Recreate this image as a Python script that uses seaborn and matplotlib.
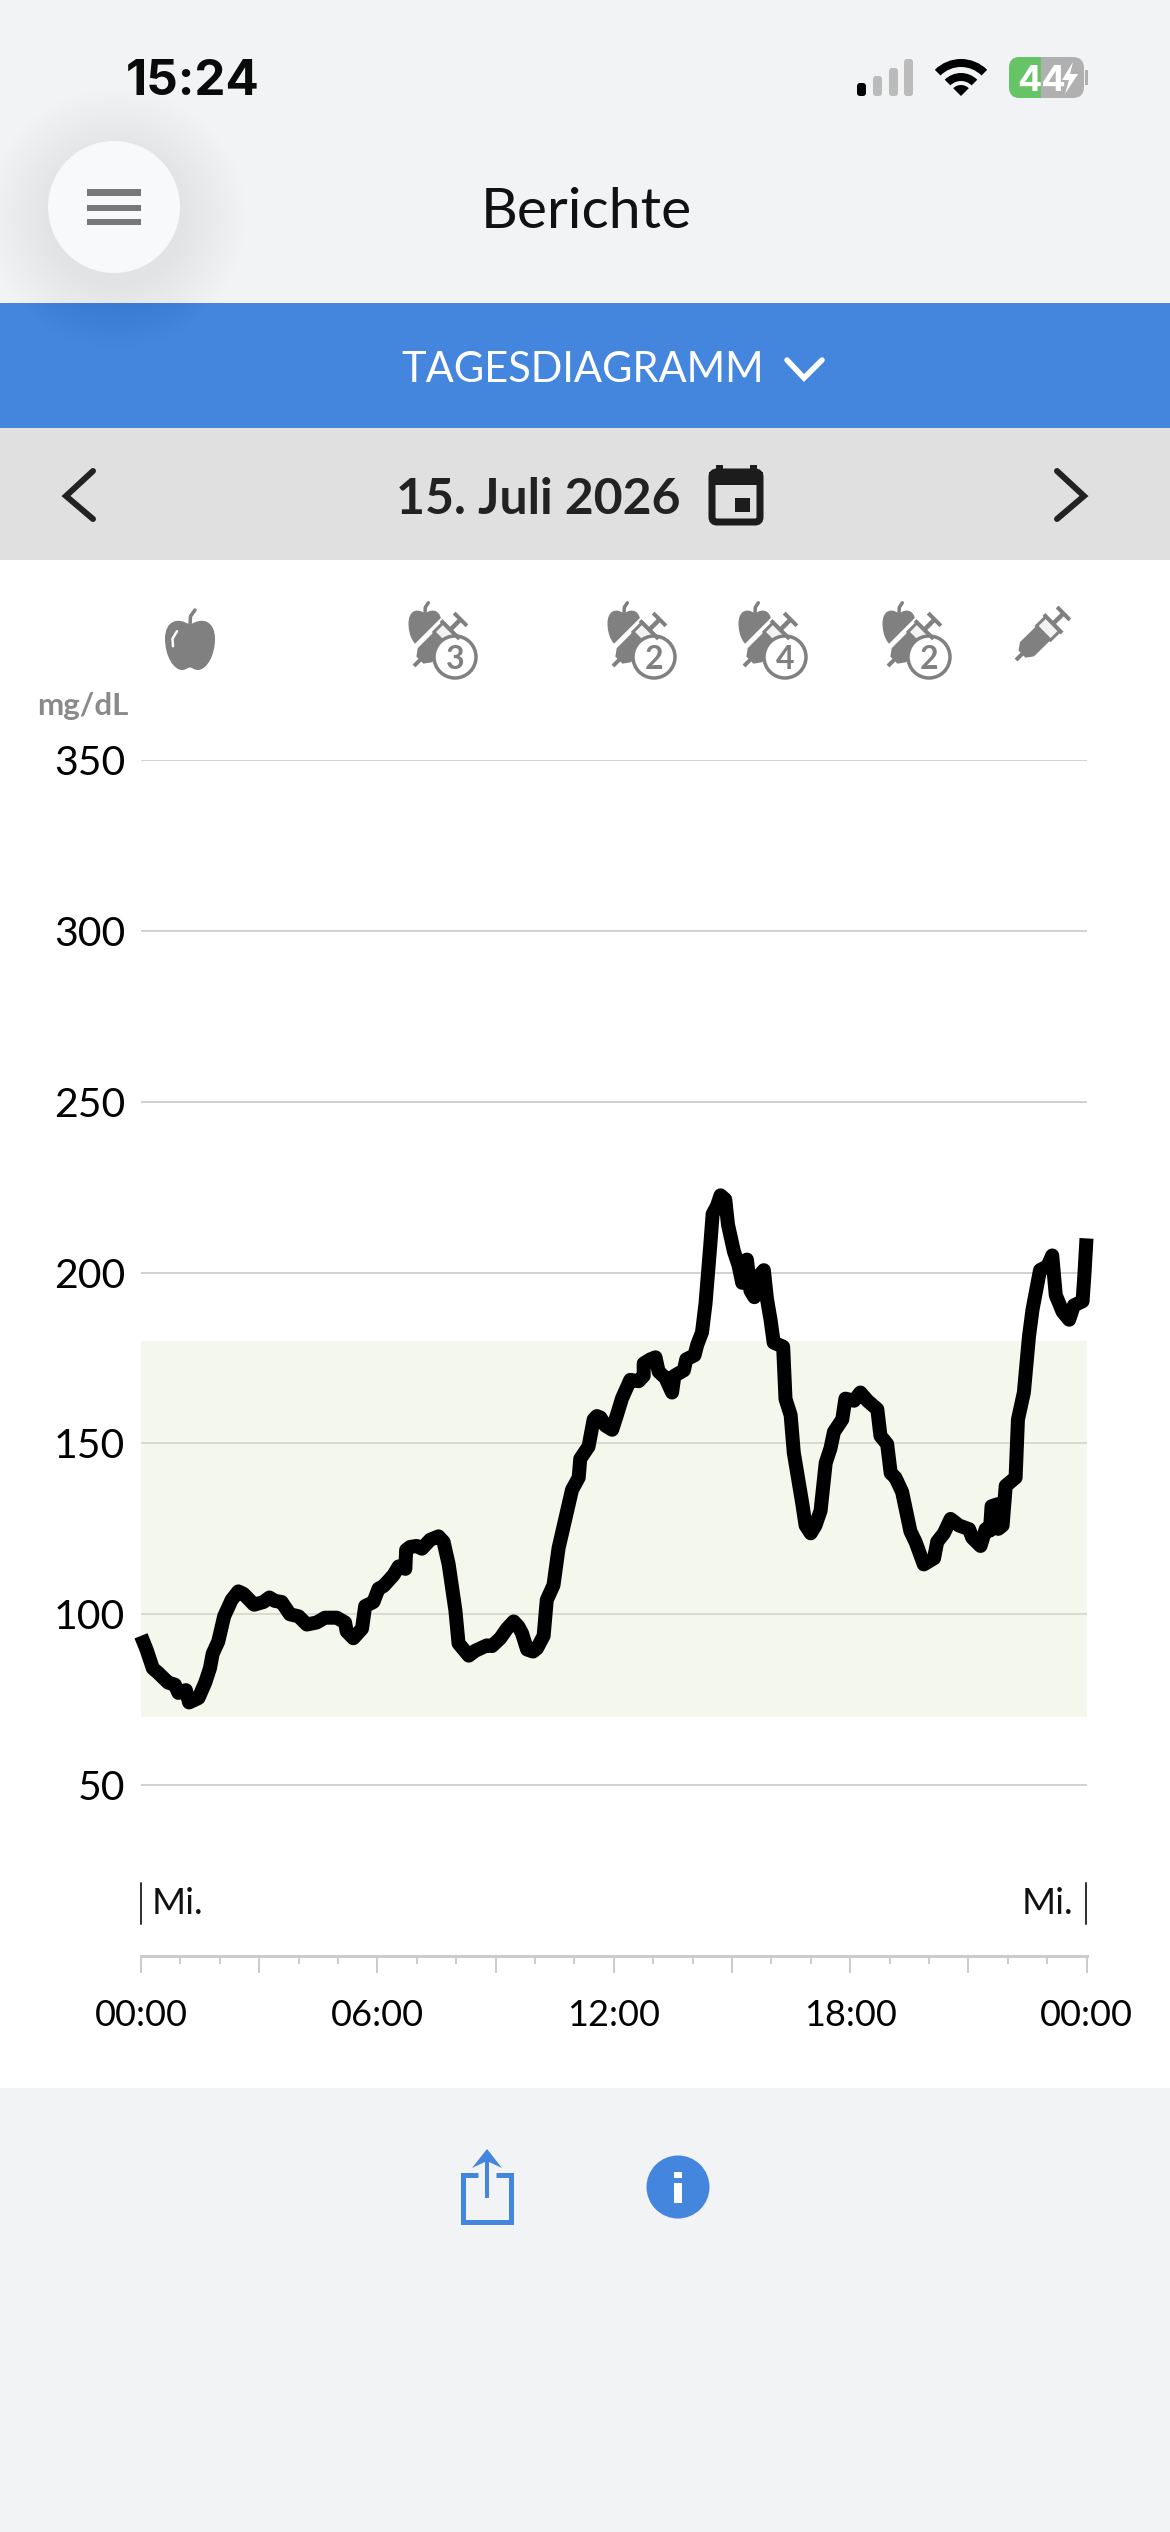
import numpy as np
import pandas as pd
import matplotlib
matplotlib.use("Agg")
import matplotlib.pyplot as plt
import seaborn as sns
from matplotlib.patches import Rectangle, Circle, Wedge, Polygon, FancyBboxPatch, PathPatch
from matplotlib.path import Path

# values
hours = [0.0, 0.14, 0.3, 0.44, 0.69, 0.86, 0.95, 1.14, 1.22, 1.46, 1.63, 1.75, 1.82, 1.96, 2.11, 2.3, 2.47, 2.6,
         2.87, 3.11, 3.26, 3.4, 3.57, 3.78, 4.0, 4.21, 4.46, 4.67, 4.97, 5.18, 5.22, 5.39, 5.61, 5.69, 5.9, 6.03,
         6.16, 6.41, 6.54, 6.71, 6.73, 6.83, 7.0, 7.13, 7.34, 7.55, 7.68, 7.81, 7.98, 8.06, 8.19, 8.32, 8.48, 8.78,
         8.91, 9.12, 9.29, 9.46, 9.58, 9.67, 9.8, 9.95, 10.05, 10.22, 10.3, 10.47, 10.6, 10.77, 10.94, 11.11, 11.15,
         11.36, 11.49, 11.57, 11.66, 11.79, 11.96, 12.08, 12.21, 12.42, 12.63, 12.76, 12.76, 12.93, 13.06, 13.14,
         13.31, 13.48, 13.54, 13.78, 13.84, 14.05, 14.12, 14.24, 14.33, 14.45, 14.51, 14.62, 14.71, 14.83, 14.9,
         15.05, 15.17, 15.26, 15.32, 15.38, 15.47, 15.57, 15.68, 15.81, 15.89, 15.98, 16.06, 16.3, 16.36, 16.49,
         16.57, 16.78, 16.87, 17.0, 17.12, 17.25, 17.38, 17.5, 17.59, 17.8, 17.88, 18.1, 18.26, 18.44, 18.69, 18.77,
         18.94, 19.03, 19.15, 19.32, 19.53, 19.66, 19.87, 20.13, 20.21, 20.38, 20.55, 20.76, 21.02, 21.1, 21.31,
         21.44, 21.55, 21.59, 21.74, 21.76, 21.87, 21.95, 22.2, 22.26, 22.41, 22.54, 22.63, 22.82, 23.01, 23.13,
         23.22, 23.39, 23.56, 23.68, 23.9, 23.95, 24.0]
glucose = [93.7, 89.7, 84.2, 82.8, 80, 79.4, 77, 77.8, 74.2, 75.5, 80, 84.2, 88.5, 92, 99.4, 104.2, 106.7, 106,
           102.8, 103.6, 104.9, 103.9, 103.6, 100, 99.4, 97, 97.6, 99, 99, 97.6, 95, 93, 95.8, 102.4, 103.6, 107.5,
           108.3, 111.5, 114, 113.3, 118.8, 119.7, 120, 119.2, 121.8, 122.8, 121.2, 114.6, 101.2, 91.5, 89.7, 87.9,
           89.3, 90.9, 90.7, 93, 95.8, 97.9, 96.4, 94.5, 89.7, 89.1, 90, 93.7, 104.2, 108.5, 119.4, 127.9, 136.4,
           140, 145.5, 149.1, 157, 158, 157.6, 155.2, 154, 158.3, 163.2, 168.6, 168.2, 169.8, 173.4, 174.6, 175.2,
           171, 169.2, 164.9, 169.8, 171.4, 174.6, 175.8, 178.9, 182.5, 191, 208, 217.1, 219.5, 222.6, 221.4, 214,
           206.2, 202, 197, 197, 203.8, 194.7, 192.8, 198.9, 200.7, 192.2, 186.2, 179.5, 178.3, 163, 158.3, 147.3,
           132.8, 126, 123.7, 126, 130.3, 144.3, 148.5, 153.4, 157, 163.1, 162.5, 164.9, 162.5, 160, 152.2, 149.8,
           141.3, 140, 135.8, 124.3, 121.2, 114.6, 116.4, 121.2, 123.7, 127.9, 126, 124.9, 122.4, 120, 124.9, 124.5,
           131.6, 132.2, 125, 126, 137.6, 140, 157, 164.9, 181.3, 189.2, 200.7, 201.9, 205, 193.4, 188.6, 186.2,
           190.4, 191.6, 200, 210]
y_ticks = [50, 100, 150, 200, 250, 300, 350]
target_low = 70
target_high = 180
x_major = [0, 3, 6, 9, 12, 15, 18, 21, 24]
x_major_labels = ["00:00", "", "06:00", "", "12:00", "", "18:00", "", "00:00"]
x_minor = [1, 2, 4, 5, 7, 8, 10, 11, 13, 14, 16, 17, 19, 20, 22, 23]

W, H = 1170, 2532
DPI = 100
FONT = ["Lato", "DejaVu Sans"]
GREY = "#808080"
DARK = "#222222"
BLUE = "#4486de"
PANEL = "#f1f3f5"

sns.set_style("white")
plt.rcParams["font.family"] = FONT
px = 72 / DPI  # one pixel in points

fig = plt.figure(figsize=(W / DPI, H / DPI), dpi=DPI, facecolor="white")

# background / UI layer in pixel coordinates
ui = fig.add_axes([0, 0, 1, 1], zorder=0)
ui.set_xlim(0, W)
ui.set_ylim(H, 0)
ui.axis("off")

ui.add_patch(Rectangle((0, 0), W, 303, color=PANEL, lw=0))
ui.add_patch(Rectangle((0, 303), W, 125, color=BLUE, lw=0))
ui.add_patch(Rectangle((0, 428), W, 132, color="#e0e0e0", lw=0))
ui.add_patch(Rectangle((0, 2088), W, H - 2088, color=PANEL, lw=0))

# menu button with soft shadow
for r in range(130, 66, -4):
    ui.add_patch(Circle((116, 218), r, color="black", alpha=0.0045, lw=0))
ui.add_patch(Circle((114, 207), 66, color="#f8f9fb", lw=0))
for y0, y1 in [(189, 196), (205, 211), (219, 225)]:
    ui.add_patch(Rectangle((87, y0), 54, y1 - y0, color="#777777", lw=0))

ui.text(126, 77, "15:24", family=["Inter", "DejaVu Sans"], weight="bold", fontsize=35.5, color="#0a0a0a", ha="left", va="center_baseline")
ui.text(586, 207, "Berichte", fontsize=41, color="#111111", ha="center", va="center_baseline")
ui.text(583, 366, "TAGESDIAGRAMM", fontsize=30, color="white", ha="center", va="center_baseline")
ui.plot([787, 804, 822], [360, 378, 360], color="white", lw=5.5 * px, solid_joinstyle="miter")
ui.text(538, 496, "15. Juli 2026", fontsize=36, weight="bold", color=DARK, ha="center", va="center_baseline")
ui.plot([93, 66, 93], [471, 496, 519], color=DARK, lw=6 * px, solid_joinstyle="miter")
ui.plot([1057, 1084, 1057], [471, 496, 519], color=DARK, lw=6 * px, solid_joinstyle="miter")

# calendar icon
ui.add_patch(FancyBboxPatch((712, 472), 48, 50, boxstyle="round,pad=0,rounding_size=5", fc="#e0e0e0", ec="#1c1c1c", lw=7 * px))
ui.add_patch(Rectangle((709, 472), 54, 13, color="#1c1c1c", lw=0))
ui.add_patch(Rectangle((716, 465), 7, 9, color="#1c1c1c", lw=0))
ui.add_patch(Rectangle((750, 465), 7, 9, color="#1c1c1c", lw=0))
ui.add_patch(Rectangle((735, 498), 15, 14, color="#1c1c1c", lw=0))

# signal bars
for x0, top, col in [(857, 83, "black"), (873, 76, "#bbbbbb"), (889, 68, "#bbbbbb"), (904, 59, "#bbbbbb")]:
    ui.add_patch(FancyBboxPatch((x0, top), 9, 96 - top, boxstyle="round,pad=0,rounding_size=3", color=col, lw=0))

# wifi
for r_out, r_w in [(37, 8), (23, 8)]:
    ui.add_patch(Wedge((961, 96), r_out, 225, 315, width=r_w, color="black", lw=0))
ui.add_patch(Wedge((961, 96), 11, 225, 315, color="black", lw=0))

# battery
ui.add_patch(FancyBboxPatch((1009, 57), 75, 41, boxstyle="round,pad=0,rounding_size=11", color="#b0b0b0", lw=0))
green = FancyBboxPatch((1009, 57), 75, 41, boxstyle="round,pad=0,rounding_size=11", color="#67c466", lw=0)
ui.add_patch(green)
green.set_clip_path(Rectangle((1009, 57), 32, 41, transform=ui.transData))
ui.add_patch(Rectangle((1085, 70), 3, 15, color="#b0b0b0", lw=0))
ui.text(1042, 78, "44", family=["Inter", "DejaVu Sans"], weight="bold", fontsize=26, color="white", ha="center", va="center_baseline")
ui.add_patch(Polygon([(1073, 62), (1062, 80), (1069, 80), (1065, 94), (1078, 74), (1070, 74)], color="white", lw=0))


def apple(cx, cy, w, h, shine=True):
    # body outline as one bezier path, plus a stem
    x = lambda f: cx + f * w / 2
    y = lambda f: cy + f * h / 2
    verts = [(x(0), y(-0.8)),
             (x(0.5), y(-1.15)), (x(1.0), y(-0.95)), (x(1.0), y(-0.25)),
             (x(1.0), y(0.45)), (x(0.65), y(1.0)), (x(0.32), y(1.0)),
             (x(0.15), y(1.0)), (x(0.1), y(0.9)), (x(0), y(0.9)),
             (x(-0.1), y(0.9)), (x(-0.15), y(1.0)), (x(-0.32), y(1.0)),
             (x(-0.65), y(1.0)), (x(-1.0), y(0.45)), (x(-1.0), y(-0.25)),
             (x(-1.0), y(-0.95)), (x(-0.5), y(-1.15)), (x(0), y(-0.8))]
    codes = [Path.MOVETO] + [Path.CURVE4] * 18
    ui.add_patch(PathPatch(Path(verts, codes), color=GREY, lw=0))
    ui.plot([x(0), x(0.02), x(0.2)], [y(-0.8), y(-1.15), y(-1.4)], color=GREY, lw=3.5 * px)
    if shine:
        ui.plot([x(-0.68), x(-0.7), x(-0.52)], [y(0.05), y(-0.25), y(-0.55)], color="white", lw=2.5 * px)


def syringe(x0, y0, x1, y1, halo=False):
    # x0,y0 is the needle tip, x1,y1 the plunger end
    p0 = np.array([x0, y0], float)
    d = np.array([x1 - x0, y1 - y0], float)
    n = np.array([-d[1], d[0]]) / np.hypot(*d)
    pt = lambda t, s: tuple(p0 + d * t + n * s)
    if halo:
        ui.add_patch(Polygon([pt(0.05, 15), pt(1.02, 15), pt(1.02, -15), pt(0.05, -15)], color="white", lw=0))
    ui.plot(*zip(pt(0, 0), pt(0.25, 0)), color=GREY, lw=4 * px, solid_capstyle="butt")
    ui.add_patch(Polygon([pt(0.12, 5), pt(0.22, 10), pt(0.55, 10), pt(0.55, -10), pt(0.22, -10), pt(0.12, -5)], color=GREY, lw=0))
    ui.add_patch(Polygon([pt(0.55, 10), pt(0.74, 10), pt(0.74, -10), pt(0.55, -10)], fc="#f2f2f2", ec=GREY, lw=3 * px))
    ui.plot(*zip(pt(0.74, 13), pt(0.74, -13)), color=GREY, lw=4 * px, solid_capstyle="butt")
    ui.plot(*zip(pt(0.74, 0), pt(0.95, 0)), color=GREY, lw=4.5 * px, solid_capstyle="butt")
    ui.plot(*zip(pt(0.95, 9), pt(0.95, -9)), color=GREY, lw=4 * px, solid_capstyle="butt")


def combo(cx, cy, count):
    apple(cx - 30, cy - 29, 33, 36, shine=False)
    syringe(cx - 41, cy + 9, cx + 8, cy - 40, halo=True)
    ui.add_patch(Circle((cx, cy), 21, fc="white", ec=GREY, lw=3.5 * px))
    ui.text(cx, cy, count, fontsize=23, weight="bold", color=GREY, ha="center", va="center_baseline")


apple(190, 645, 50, 50)
for cx, count in [(455, "3"), (654, "2"), (785, "4"), (929, "2")]:
    combo(cx, 657, count)
syringe(1016, 660, 1066, 611)

ui.text(37, 703, "mg/dL", fontsize=22.5, weight="bold", color="#8a8a8a", ha="left", va="center_baseline")

# footer icons
ui.plot([478, 463, 463, 511, 511, 496], [2175, 2175, 2222, 2222, 2175, 2175], color=BLUE, lw=5 * px, solid_joinstyle="miter", solid_capstyle="butt")
ui.plot([487, 487], [2198, 2160], color=BLUE, lw=4 * px, solid_capstyle="butt")
ui.add_patch(Polygon([(487, 2149), (502, 2168), (487, 2161), (472, 2168)], color=BLUE, lw=0))
ui.add_patch(Circle((678, 2187), 31.5, color=BLUE, lw=0))
ui.add_patch(Rectangle((674, 2183), 8, 20, color="white", lw=0))
ui.add_patch(Rectangle((674, 2172), 8, 6, color="white", lw=0))

# chart
ax_left, ax_right, ax_top, ax_bottom = 141, 1086.5, 760, 1956
ax = fig.add_axes([ax_left / W, 1 - ax_bottom / H, (ax_right - ax_left) / W, (ax_bottom - ax_top) / H], zorder=2)
ax.patch.set_alpha(0)

df = pd.DataFrame({"hour": hours, "glucose": glucose})
ax.set_ylim(0, 350)
ax.set_xlim(0, 24)
ax.set_yticks(y_ticks)
ax.yaxis.grid(True, color="#d2d2d2", lw=2 * px, zorder=1)
ax.set_axisbelow(True)
ax.axhspan(target_low, target_high, color=(228 / 255, 235 / 255, 208 / 255), alpha=0.4, lw=0, zorder=1.5)

sns.lineplot(data=df, x="hour", y="glucose", ax=ax, sort=False, estimator=None, color="black",
             lw=14 * px, solid_joinstyle="round", solid_capstyle="butt", clip_on=False, zorder=3)

ax.set_xlabel("")
ax.set_ylabel("")
ax.set_xticks(x_major)
ax.set_xticklabels(x_major_labels, fontsize=26, color="black")
ax.set_xticks(x_minor, minor=True)
ax.tick_params(axis="x", which="major", bottom=True, length=17 * px, width=2 * px, color="#cccccc", pad=26 * px)
ax.tick_params(axis="x", which="minor", bottom=True, length=8 * px, width=2 * px, color="#cccccc")
ax.tick_params(axis="y", left=False, pad=11 * px, labelsize=29.5, labelcolor="black")
for lab in ax.get_yticklabels():
    lab.set_va("center_baseline")
sns.despine(ax=ax, left=True)
ax.spines["bottom"].set_color("#cccccc")
ax.spines["bottom"].set_linewidth(3 * px)

ui.plot([141, 141], [1883, 1924], color="#333333", lw=2 * px)
ui.plot([1086, 1086], [1883, 1924], color="#333333", lw=2 * px)
ui.text(152, 1900, "Mi.", fontsize=26.5, color="#111111", ha="left", va="center_baseline")
ui.text(1073, 1900, "Mi.", fontsize=26.5, color="#111111", ha="right", va="center_baseline")

fig.savefig("out.png", dpi=DPI)
